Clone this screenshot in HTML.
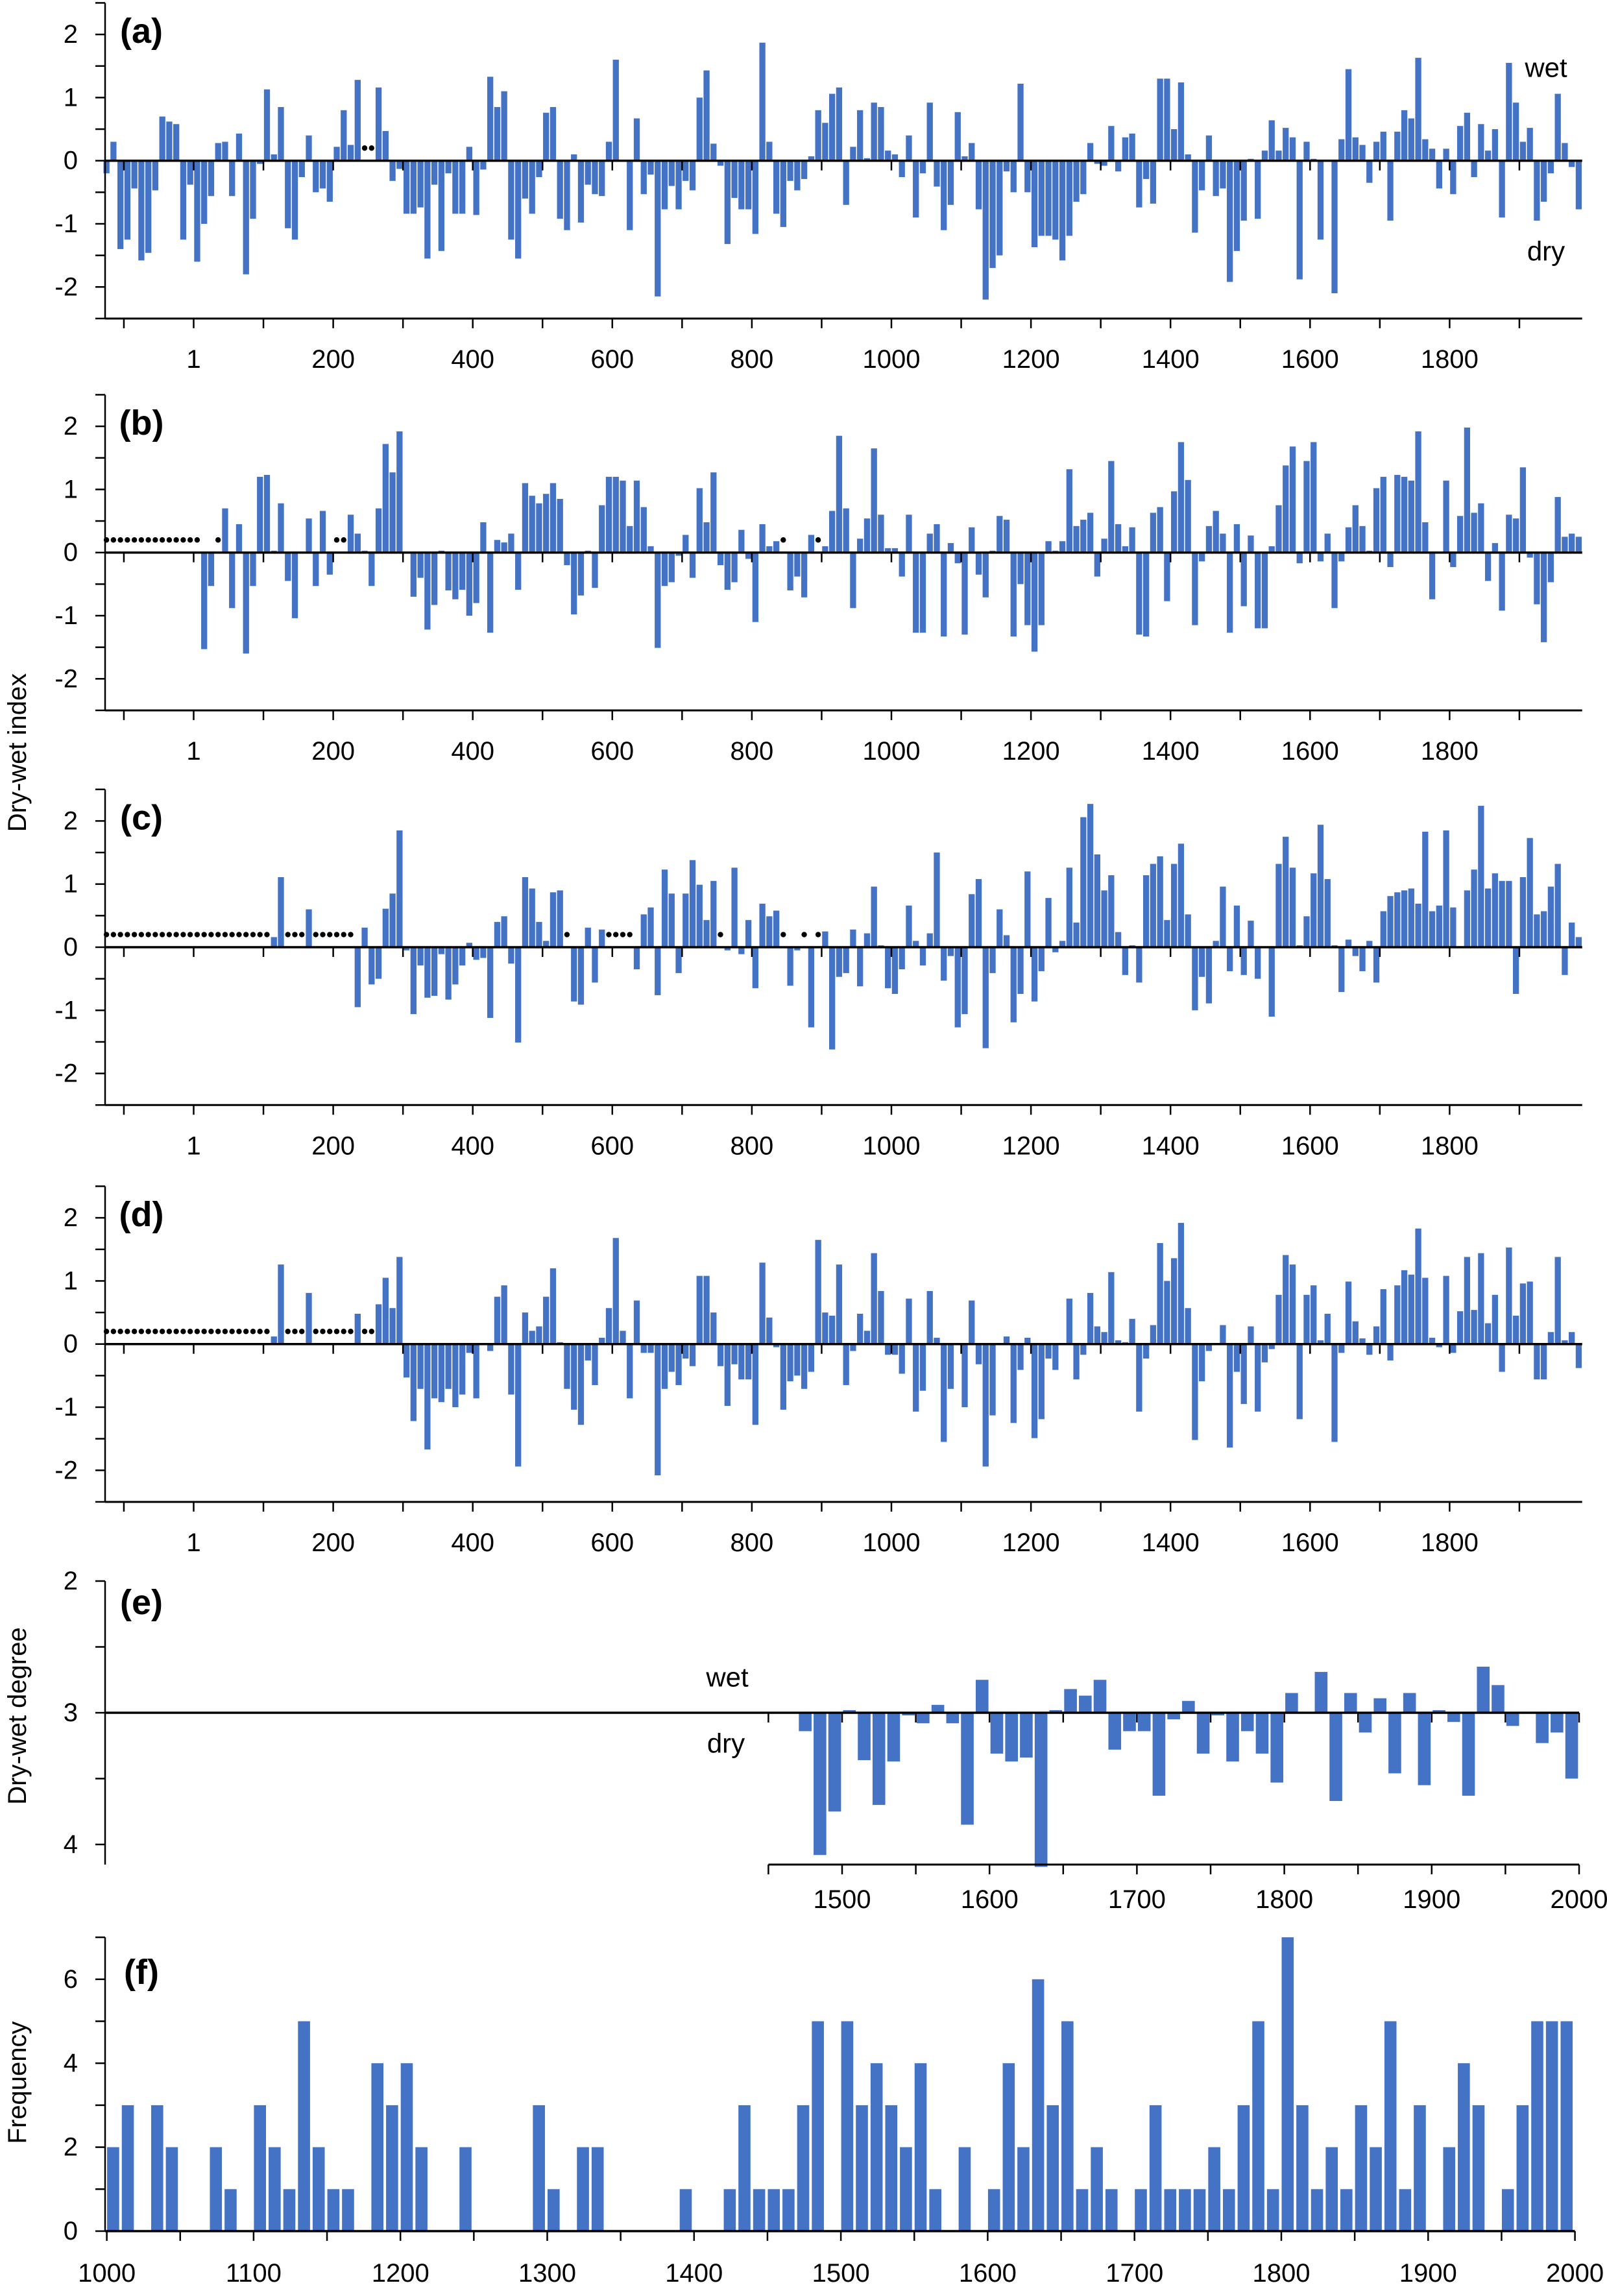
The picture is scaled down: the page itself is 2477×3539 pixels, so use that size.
<!DOCTYPE html>
<html><head><meta charset="utf-8"><style>
html,body{margin:0;padding:0;background:#fff}
svg text{font-family:"Liberation Sans",sans-serif;fill:#000}
</style></head><body>
<svg id="chart" xmlns="http://www.w3.org/2000/svg" width="2477" height="3534" viewBox="0 0 2477 3534"></svg>
<script>
// ---------- data ----------
const seriesA = [-0.2,0.3,-1.4,-1.25,-0.44,-1.58,-1.46,-0.47,0.7,0.62,0.58,-1.25,-0.38,-1.6,-1.0,-0.56,0.28,0.3,-0.56,0.43,-1.8,-0.92,-0.05,1.13,0.1,0.85,-1.07,-1.25,-0.26,0.4,-0.5,-0.44,-0.65,0.22,0.8,0.25,1.28,null,null,1.16,0.47,-0.32,-0.13,-0.84,-0.84,-0.74,-1.55,-0.38,-1.43,-0.2,-0.84,-0.84,0.22,-0.86,-0.14,1.33,0.85,1.1,-1.25,-1.55,-0.6,-0.84,-0.26,0.76,0.85,-0.92,-1.1,0.1,-0.98,-0.38,-0.53,-0.56,0.3,1.6,0,-1.1,0.67,-0.53,-0.22,-2.15,-0.77,-0.4,-0.77,-0.32,-0.47,1.0,1.43,0.27,-0.08,-1.32,-0.59,-0.77,-0.77,-1.16,1.87,0.3,-0.84,-1.05,-0.32,-0.47,-0.29,0.07,0.8,0.6,1.06,1.16,-0.7,
0.22,0.8,0.04,0.92,0.85,0.16,0.1,-0.26,0.4,-0.9,-0.2,0.92,-0.41,-1.1,-0.7,0.77,0.07,0.28,-0.77,-2.2,-1.7,-1.5,-0.17,-0.5,1.22,-0.5,-1.37,-1.19,-1.19,-1.25,-1.58,-1.19,-0.65,-0.53,0.28,-0.05,-0.08,0.55,-0.17,0.37,0.43,-0.74,-0.29,-0.68,1.3,1.3,0.5,1.24,0.1,-1.14,-0.47,0.4,-0.56,-0.44,-1.92,-1.43,-0.95,0.03,-0.92,0.16,0.64,0.16,0.52,0.37,-1.88,0.3,0.03,-1.25,0,-2.1,0.34,1.45,0.37,0.25,-0.35,0.3,0.46,-0.95,0.46,0.8,0.67,1.63,0.34,0.19,-0.44,0.19,-0.53,0.55,0.76,-0.26,0.58,0.16,0.5,-0.9,1.55,0.92,0.3,0.52,-0.95,-0.65,-0.2,1.06,0.28,-0.1,-0.77];
const seriesB = [null,null,null,null,null,null,null,null,null,null,null,null,null,null,-1.53,-0.53,null,0.7,-0.88,0.45,-1.6,-0.53,1.2,1.23,0.03,0.78,-0.45,-1.04,0,0.54,-0.53,0.66,-0.35,null,null,0.6,0.3,0.03,-0.53,0.7,1.72,1.27,1.92,0,-0.7,-0.4,-1.22,-0.83,0.03,-0.6,-0.74,-0.59,-1.0,-0.8,0.48,-1.27,0.2,0.16,0.3,-0.59,1.1,0.9,0.78,0.93,1.1,0.85,-0.2,-0.98,-0.68,0.03,-0.56,0.75,1.2,1.2,1.14,0.42,1.14,0.72,0.1,-1.51,-0.53,-0.47,-0.05,0.28,-0.4,1.02,0.48,1.27,-0.2,-0.59,-0.47,0.36,-0.1,-1.1,0.45,0.1,0.18,null,-0.6,-0.38,-0.71,0.28,null,0.1,0.66,1.85,0.7,
-0.88,0.22,0.54,1.65,0.6,0.07,0.07,-0.38,0.6,-1.27,-1.27,0.3,0.45,-1.33,0.15,-0.17,-1.3,0.4,-0.35,-0.71,0.03,0.58,0.52,-1.33,-0.5,-1.15,-1.57,-1.15,0.18,0.03,0.18,1.32,0.42,0.52,0.63,-0.38,0.22,1.45,0.45,0.1,0.4,-1.3,-1.33,0.63,0.72,-0.77,0.97,1.75,1.15,-1.15,-0.14,0.42,0.66,0.3,-1.27,0.45,-0.85,0.27,-1.2,-1.2,0.1,0.75,1.38,1.68,-0.17,1.45,1.75,-0.14,0.3,-0.88,-0.14,0.4,0.75,0.42,0.03,1.02,1.2,-0.23,1.23,1.2,1.14,1.92,0.48,-0.74,0,1.14,-0.23,0.58,1.98,0.63,0.78,-0.45,0.15,-0.92,0.6,0.54,1.35,-0.08,-0.82,-1.42,-0.47,0.88,0.25,0.3,0.25];
const seriesC = [null,null,null,null,null,null,null,null,null,null,null,null,null,null,null,null,null,null,null,null,null,null,null,null,0.16,1.11,null,null,null,0.6,null,null,null,null,null,null,-0.95,0.31,-0.59,-0.5,0.61,0.85,1.85,-0.05,-1.06,-0.29,-0.8,-0.77,-0.11,-0.83,-0.59,-0.29,0.07,-0.2,-0.17,-1.12,0.4,0.49,-0.26,-1.51,1.11,0.93,0.4,0.1,0.87,0.9,null,-0.86,-0.91,0.31,-0.56,0.28,null,null,null,null,-0.35,0.52,0.63,-0.76,1.23,0.85,-0.41,0.85,1.38,0.99,0.43,1.05,null,-0.05,1.26,-0.11,0.43,-0.65,0.69,0.49,0.58,null,-0.61,-0.05,null,-1.27,null,0.25,-1.62,-0.47,-0.41,
0.28,-0.62,0.22,0.96,0.03,-0.65,-0.74,-0.35,0.66,0.1,-0.29,0.22,1.5,-0.53,-0.14,-1.27,-1.06,0.84,1.08,-1.6,-0.41,0.6,0.19,-1.19,-0.74,1.2,-0.86,-0.38,0.78,-0.08,0.1,1.26,0.39,2.06,2.27,1.47,0.9,1.14,0.24,-0.44,0.03,-0.56,1.14,1.32,1.44,0.43,1.32,1.64,0.52,-1.0,-0.47,-0.89,0.1,0.96,-0.38,0.66,-0.44,0.42,-0.5,0,-1.1,1.32,1.75,1.26,0.03,0.49,1.17,1.94,1.08,0.03,-0.71,0.12,-0.14,-0.38,0.1,-0.56,0.57,0.81,0.87,0.9,0.93,0.69,1.83,0.57,0.66,1.85,0.63,0,0.9,1.23,2.24,0.93,1.17,1.05,1.05,-0.74,1.11,1.73,0.52,0.57,0.96,1.32,-0.44,0.39,0.16];
const seriesD = [null,null,null,null,null,null,null,null,null,null,null,null,null,null,null,null,null,null,null,null,null,null,null,null,0.12,1.26,null,null,null,0.81,null,null,null,null,null,null,0.48,null,null,0.63,1.05,0.57,1.38,-0.53,-1.22,-0.71,-1.67,-0.86,-0.92,-0.71,-1.0,-0.8,-0.14,-0.86,0,-0.11,0.75,0.93,-0.8,-1.94,0.5,0.21,0.28,0.75,1.2,0.03,-0.71,-1.04,-1.28,-0.26,-0.65,0.1,0.57,1.68,0.21,-0.86,0.69,-0.14,-0.14,-2.08,-0.71,-0.44,-0.65,-0.23,-0.35,1.08,1.08,0.5,-0.35,-0.98,-0.32,-0.56,-0.56,-1.28,1.29,0.42,-0.05,-1.04,-0.59,-0.5,-0.71,-0.44,1.65,0.5,0.45,1.26,-0.65,
-0.11,0.48,0.21,1.44,0.84,-0.17,-0.17,-0.47,0.72,-1.07,-0.74,0.84,0.1,-1.55,-0.71,0,-1.0,0.69,-0.32,-1.94,-1.13,0,0.12,-1.25,-0.41,0.1,-1.49,-1.19,-0.23,-0.41,0,0.72,-0.56,-0.17,0.81,0.28,0.19,1.14,0.06,0.03,0.4,-1.07,-0.23,0.3,1.6,1.0,1.36,1.92,0.57,-1.52,-0.59,-0.11,0,0.3,-1.64,-0.44,-0.95,0.28,-1.07,-0.29,-0.08,0.78,1.41,1.26,-1.19,0.78,0.93,0.06,0.48,-1.55,-0.14,0.99,0.36,0.09,-0.17,0.28,0.87,-0.26,0.93,1.17,1.1,1.83,1.05,0.1,-0.05,1.08,-0.14,0.52,1.38,0.54,1.44,0.33,0.78,-0.44,1.53,0.45,0.96,0.99,-0.56,-0.56,0.19,1.38,0.06,0.19,-0.38];
const indexTickLabels = ["1","200","400","600","800","1000","1200","1400","1600","1800"];
const indexTickYears = [0,200,400,600,800,1000,1200,1400,1600,1800];
const indexYLabels = [2,1,0,-1,-2];
const degreeValues = [3.14,4.08,3.75,2.98,3.36,3.7,3.37,3.02,3.08,2.94,3.08,3.85,2.75,3.31,3.37,3.34,4.17,2.98,2.82,2.87,2.75,3.28,3.14,3.14,3.63,3.05,2.91,3.31,3.02,3.37,3.14,3.31,3.53,2.85,3,2.69,3.67,2.85,3.15,2.89,3.46,2.85,3.55,2.98,3.07,3.63,2.65,2.79,3.1,3,3.23,3.15,3.5];
const degreeStartYear = 1470;
const degreeTickLabels = ["1500","1600","1700","1800","1900","2000"];
const degreeYLabels = [2,3,4];
const freqValues = [2,3,0,3,2,0,0,2,1,0, 3,2,1,5,2,1,1,0,4,3, 4,2,0,0,2,0,0,0,0,3, 1,0,2,2,0,0,0,0,0,1, 0,0,1,3,1,1,1,3,5,0, 5,3,4,3,2,4,1,0,2,0, 1,4,2,6,3,5,1,2,1,0, 1,3,1,1,1,2,1,3,5,1, 7,3,1,2,1,3,2,5,1,3, 0,2,4,3,0,1,3,5,5,5];
const freqStartYear = 1000;
const freqTickLabels = ["1000","1100","1200","1300","1400","1500","1600","1700","1800","1900","2000"];
const freqYLabels = [0,2,4,6];

// ---------- helpers ----------
const NS = "http://www.w3.org/2000/svg";
const svg = document.getElementById("chart");
const BLUE = "#4472C4";
function mk(tag, attrs, parent){
  const e = document.createElementNS(NS, tag);
  for (const k in attrs) e.setAttribute(k, attrs[k]);
  (parent || svg).appendChild(e);
  return e;
}
function txt(x,y,s,size,anchor,parent,weight){
  const t = mk("text",{x:x,y:y,"font-size":size,"text-anchor":anchor||"middle","dominant-baseline":"central"},parent);
  if (weight) t.setAttribute("font-weight", weight);
  t.textContent = s;
  return t;
}
const AXL = 162;

// ---------- panels a-d ----------
const idxX = y => 298.5 + 1.0755*y;
const startYear = -130;
const panels = [
  {id:"a", data:seriesA, zero:247.7, top:4.5},
  {id:"b", data:seriesB, zero:851.7},
  {id:"c", data:seriesC, zero:1460},
  {id:"d", data:seriesD, zero:2071.7}
];
const U = 97.3;
panels.forEach(p => {
  const g = mk("g",{});
  
  
  const yv = v => p.zero - v*U;
  const top = yv(2.5), bot = yv(-2.5);
  const right = idxX(1990);
  // bars
  p.data.forEach((v,i) => {
    const yr = startYear + 10*i;
    const x0 = idxX(yr) + 0.8;
    if (v === null) {
      const dot = mk("circle",{cx:x0+4.6, cy:yv(0.2), r:4.2, fill:"#000"}, g);
      
      
      return;
    }
    if (v === 0) return;
    const y1 = yv(Math.max(v,0)), y2 = yv(Math.min(v,0));
    const r = mk("rect",{x:x0, y:y1, width:9.3, height:Math.max(y2-y1,1), fill:BLUE}, g);
    
    
  });
  // zero line
  const zl = mk("line",{x1:AXL, x2:right, y1:p.zero, y2:p.zero, stroke:"#000","stroke-width":3.5}, g);
  
  
  // axes
  const ya = mk("line",{x1:AXL, x2:AXL, y1:top, y2:bot, stroke:"#000","stroke-width":2.5}, g);
  
  
  const xa = mk("line",{x1:AXL, x2:right, y1:bot, y2:bot, stroke:"#000","stroke-width":3}, g);
  
  
  for (let v=-2.5; v<=2.51; v+=0.5) mk("line",{x1:AXL-15,x2:AXL,y1:yv(v),y2:yv(v),stroke:"#000","stroke-width":2.5}, g);
  for (let yr=-100; yr<=1900; yr+=100) {
    mk("line",{x1:idxX(yr),x2:idxX(yr),y1:p.zero,y2:p.zero+15,stroke:"#000","stroke-width":2.5}, g);
    mk("line",{x1:idxX(yr),x2:idxX(yr),y1:bot,y2:bot+15,stroke:"#000","stroke-width":2.5}, g);
  }
  indexYLabels.forEach(v => {
    const t = txt(120, yv(v), String(v).replace("-","-"), 40, "end", g);
    
    
  });
  indexTickLabels.forEach((s,i) => {
    const t = txt(idxX(indexTickYears[i]), bot+63, s, 40, "middle", g);
    
    
  });
  const pl = txt(218, yv(2.05), "(" + p.id + ")", 54, "middle", g, "bold");
  
  
});
txt(2383,104,"wet",42,"middle");
txt(2383,387,"dry",42,"middle");

// ---------- panel e ----------
(function(){
  const g = mk("g",{});
  
  
  const xs = y => 162 + (y-1000)*2.272;
  const Z = 2640, EU = 203;
  const yv = v => Z + (v-3)*EU;
  const bot = yv(4.153);
  degreeValues.forEach((v,i) => {
    const yr = degreeStartYear + 10*i;
    if (v === 3) return;
    const y1 = Math.min(yv(v), Z), y2 = Math.max(yv(v), Z);
    const r = mk("rect",{x:xs(yr)+1.5, y:y1, width:19.6, height:y2-y1, fill:BLUE}, g);
    
    
  });
  mk("line",{x1:AXL,x2:xs(2000),y1:Z,y2:Z,stroke:"#000","stroke-width":3.5},g);
  mk("line",{x1:AXL,x2:AXL,y1:yv(2),y2:bot,stroke:"#000","stroke-width":2.5},g);
  mk("line",{x1:xs(1450),x2:xs(2000),y1:bot,y2:bot,stroke:"#000","stroke-width":3},g);
  for (let v=2; v<=4.01; v+=0.5) mk("line",{x1:AXL-15,x2:AXL,y1:yv(v),y2:yv(v),stroke:"#000","stroke-width":2.5},g);
  for (let yr=1450; yr<=2000; yr+=50) {
    mk("line",{x1:xs(yr),x2:xs(yr),y1:Z,y2:Z+15,stroke:"#000","stroke-width":2.5},g);
    mk("line",{x1:xs(yr),x2:xs(yr),y1:bot,y2:bot+15,stroke:"#000","stroke-width":2.5},g);
  }
  degreeYLabels.forEach(v => {
    const t = txt(120, yv(v), String(v), 40, "end", g);
    
    
  });
  degreeTickLabels.forEach((s,i) => {
    const t = txt(xs(1500+100*i), 2928, s, 40, "middle", g);
    
    
  });
  const pl = txt(218, 2470, "(e)", 54, "middle", g, "bold");
  
  
  txt(1121,2585,"wet",42,"middle",g);
  txt(1119,2687,"dry",42,"middle",g);
})();

// ---------- panel f ----------
(function(){
  const g = mk("g",{});
  
  
  const xs = y => 164.6 + (y-1000)*2.263;
  const Z = 3439, FU = 64.7;
  const yv = v => Z - v*FU;
  freqValues.forEach((v,i) => {
    const yr = freqStartYear + 10*i;
    if (!v) return;
    const r = mk("rect",{x:xs(yr)+0.5, y:yv(v), width:18.6, height:v*FU, fill:BLUE}, g);
    
    
  });
  mk("line",{x1:AXL,x2:xs(2000),y1:Z,y2:Z,stroke:"#000","stroke-width":3.5},g);
  mk("line",{x1:AXL,x2:AXL,y1:yv(7),y2:Z,stroke:"#000","stroke-width":2.5},g);
  for (let v=0; v<=7; v++) mk("line",{x1:AXL-15,x2:AXL,y1:yv(v),y2:yv(v),stroke:"#000","stroke-width":2.5},g);
  for (let yr=1000; yr<=2000; yr+=50) mk("line",{x1:xs(yr),x2:xs(yr),y1:Z,y2:Z+15,stroke:"#000","stroke-width":2.5},g);
  freqYLabels.forEach(v => {
    const t = txt(120, yv(v), String(v), 40, "end", g);
    
    
  });
  freqTickLabels.forEach((s,i) => {
    const t = txt(xs(1000+100*i), 3504, s, 40, "middle", g);
    
    
  });
  const pl = txt(218, 3040, "(f)", 54, "middle", g, "bold");
  
  
})();

// ---------- axis titles ----------
function vtitle(x,y,s,name){
  const t = mk("text",{x:x,y:y,"font-size":40,"text-anchor":"middle","dominant-baseline":"central",transform:"rotate(-90 "+x+" "+y+")"});
  t.textContent = s;
  
  
}
vtitle(27,1160,"Dry-wet index","y-axis-title-index");
vtitle(27,2645,"Dry-wet degree","y-axis-title-degree");
vtitle(27,3210,"Frequency","y-axis-title-frequency");
</script>
</body></html>
